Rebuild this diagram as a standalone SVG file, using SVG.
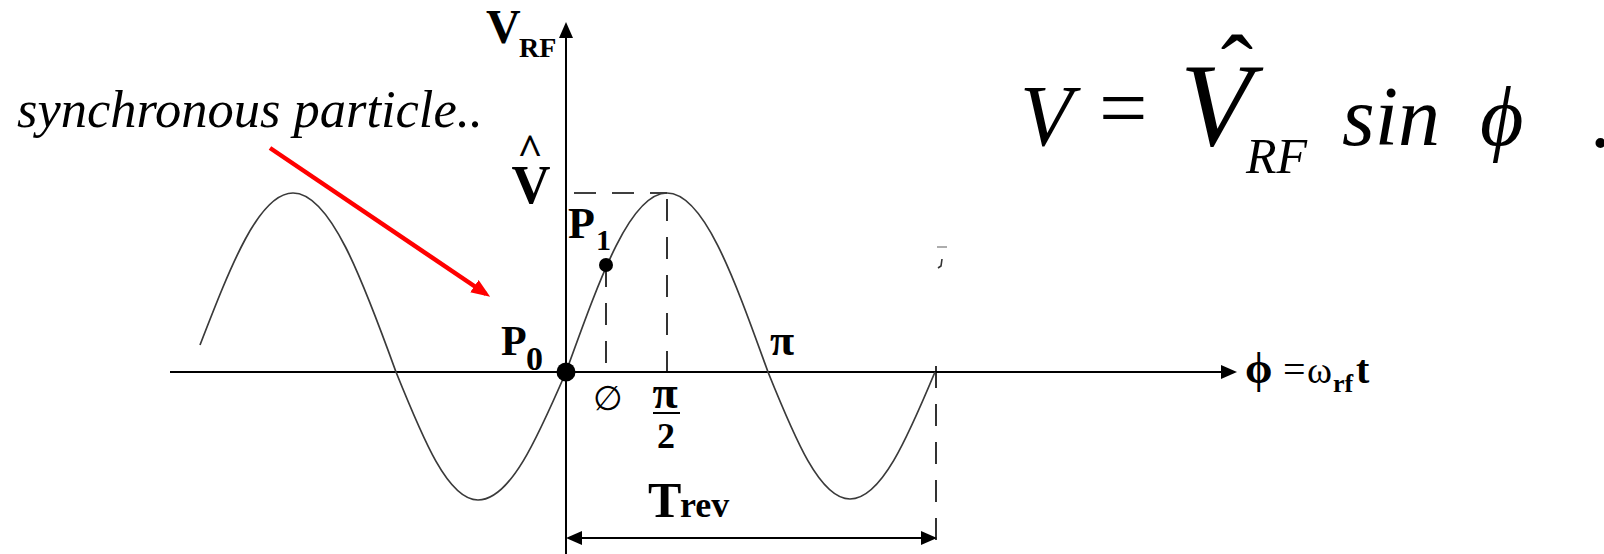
<svg xmlns="http://www.w3.org/2000/svg" width="1604" height="554" viewBox="0 0 1604 554">
<style>
.ax{stroke:#000;stroke-width:2;fill:none}
.dash{stroke:#000;stroke-width:1.6;fill:none;stroke-dasharray:22 16}
.curve{stroke:#3a3a3a;stroke-width:1.7;fill:none}
.b{font-family:"Liberation Serif","Times New Roman",serif;font-weight:bold;fill:#000}
.r{font-family:"Liberation Serif","Times New Roman",serif;fill:#000}
.i{font-family:"Liberation Serif","Times New Roman",serif;font-style:italic;fill:#000}
</style>
<defs>
<marker id="ah" markerUnits="userSpaceOnUse" viewBox="0 0 16 14" refX="12" refY="7" markerWidth="16" markerHeight="14" orient="auto-start-reverse">
<path d="M0,0 L16,7 L0,14 z" fill="#000"/>
</marker>
<marker id="ahr" markerUnits="userSpaceOnUse" viewBox="0 0 19 15" refX="14" refY="7.5" markerWidth="19" markerHeight="15" orient="auto">
<path d="M0,0 L19,7.5 L0,15 z" fill="#ff0000"/>
</marker>
</defs>

<g id="axes">
<line class="ax" x1="170" y1="372" x2="1233" y2="372" marker-end="url(#ah)"/>
<line class="ax" x1="566" y1="554" x2="566" y2="26" marker-end="url(#ah)"/>
</g>

<g id="guides">
<line class="dash" x1="566" y1="193" x2="667" y2="193" stroke-dashoffset="-8"/>
<line class="dash" x1="667" y1="193" x2="667" y2="372" stroke-dashoffset="-6"/>
<line class="dash" x1="606" y1="265" x2="606" y2="372"/>
<line class="dash" x1="936" y1="366" x2="936" y2="540"/>
</g>

<g id="curve">
<path class="curve" d="M200,345 C231,265 259,193 293,193 C330,193 362,278 396,372 C423,439 448,500 478,500 C510,500 537,439 566,372 C600,278 630,193 667,193 C704,193 734,278 768,372 C795,439 820,499 850,499 C881,499 907,439 935,372"/>
</g>

<g id="points">
<circle cx="566" cy="372" r="9.5" fill="#000"/>
<circle cx="606" cy="265" r="7" fill="#000"/>
</g>

<g id="connectors">
<line x1="270" y1="148" x2="486" y2="294" stroke="#ff0000" stroke-width="4.5" marker-end="url(#ahr)"/>
<line class="ax" x1="570" y1="538" x2="933" y2="538" marker-start="url(#ah)" marker-end="url(#ah)"/>
</g>

<g id="marks">
<line x1="937" y1="247" x2="947" y2="247" stroke="#777" stroke-width="1.2"/>
<path d="M942,259 L941,266 L938,268" stroke="#333" stroke-width="1.6" fill="none"/>
</g>

<g id="labels">
<text class="b" x="486" y="43" font-size="48">V</text>
<text class="b" x="519" y="57" font-size="28">RF</text>
<text class="b" x="530" y="164" font-size="44" text-anchor="middle">^</text>
<text class="b" x="531" y="203" font-size="54" text-anchor="middle">V</text>
<text class="b" x="568" y="238" font-size="44">P</text>
<text class="b" x="596" y="250" font-size="30">1</text>
<text class="b" x="501" y="355" font-size="42">P</text>
<text class="b" x="526" y="370" font-size="34">0</text>
<text class="r" x="608" y="410" font-size="34" text-anchor="middle" fill="#444">∅</text>
<text class="b" x="665" y="408" font-size="46" text-anchor="middle">π</text>
<line x1="653" y1="413" x2="680" y2="413" stroke="#000" stroke-width="2"/>
<text class="b" x="666" y="448" font-size="36" text-anchor="middle">2</text>
<text class="b" x="782" y="355" font-size="44" text-anchor="middle">π</text>
<text class="b" x="648" y="517" font-size="50">T</text>
<text class="b" x="680" y="517" font-size="36">rev</text>
<text class="b" x="1245" y="383" font-size="44">ϕ</text>
<text class="r" x="1283" y="383" font-size="40">=</text>
<text class="r" x="1307" y="383" font-size="38">ω</text>
<text class="b" x="1333" y="392" font-size="26">rf</text>
<text class="b" x="1356" y="383" font-size="40">t</text>
<text class="i" x="17" y="127" font-size="52" fill="#222" textLength="466" lengthAdjust="spacingAndGlyphs">synchronous particle..</text>
</g>

<g id="formula">
<text class="i" x="1020" y="145" font-size="86">V</text>
<text class="r" x="1099" y="137" font-size="86">=</text>
<text class="r" x="1237" y="102" font-size="97" text-anchor="middle">ˆ</text>
<text class="i" x="1180" y="145" font-size="118">V</text>
<text class="i" x="1246" y="173" font-size="50">RF</text>
<text class="i" x="1342" y="145" font-size="84">sin</text>
<text class="i" x="1480" y="145" font-size="84">ϕ</text>
<text class="i" x="1592" y="147" font-size="84">.</text>
</g>
</svg>
